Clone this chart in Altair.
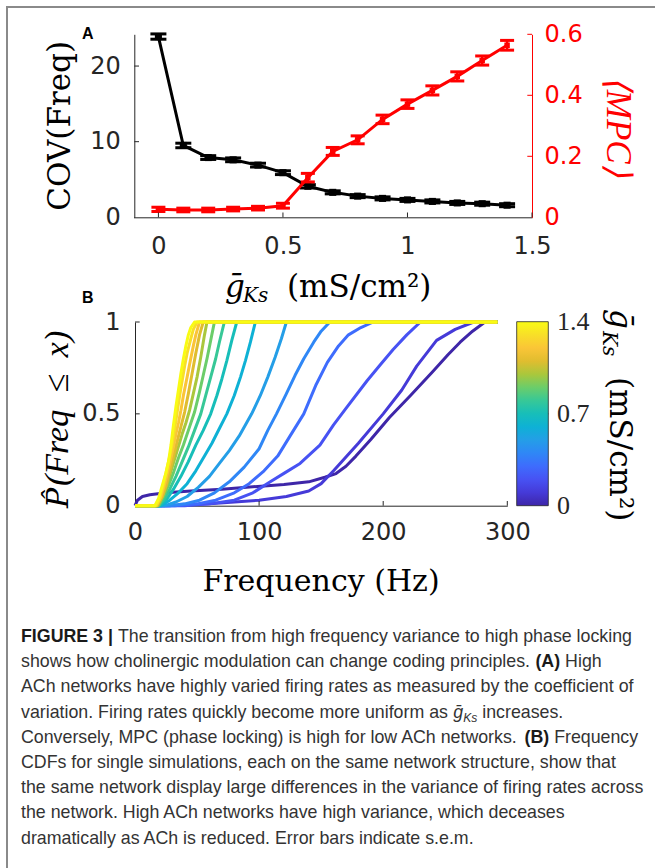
import altair as alt
import pandas as pd

W, H = 655, 868
SERIF = "DejaVu Serif"
ISERIF = "Liberation Serif"
SANS = "DejaVu Sans"
CAPF = "Liberation Sans"
AXC = "#262626"

# ---------------- Panel A data ----------------
gks = [0.0, 0.1, 0.2, 0.3, 0.4, 0.5, 0.6, 0.7, 0.8, 0.9, 1.0, 1.1, 1.2, 1.3, 1.4]
cov_freq = [23.9, 9.5, 7.9, 7.6, 6.9, 5.9, 4.1, 3.3, 2.8, 2.5, 2.3, 2.1, 1.9, 1.8, 1.6]
cov_sem = [0.35, 0.3, 0.25, 0.25, 0.25, 0.25, 0.22, 0.2, 0.2, 0.2, 0.2, 0.2, 0.2, 0.2, 0.2]
mpc = [0.026, 0.024, 0.024, 0.027, 0.030, 0.038, 0.130, 0.216, 0.254, 0.321, 0.371, 0.416, 0.462, 0.514, 0.564]
mpc_sem = [0.007, 0.006, 0.006, 0.006, 0.006, 0.008, 0.014, 0.013, 0.013, 0.014, 0.014, 0.015, 0.015, 0.015, 0.016]
gks_ticks = [0, 0.5, 1, 1.5]
cov_ticks = [0, 10, 20]
mpc_ticks = [0, 0.2, 0.4, 0.6]

# ---------------- Panel B data (CDF curves, one per gKs) ----------------
cdf_f_00 = [0, 2, 6, 12, 25, 45, 70, 99, 120, 140, 153, 162, 170, 178, 190, 205, 222, 240, 252, 262, 272, 282, 292]
cdf_p_00 = [0, 0.03, 0.05, 0.06, 0.07, 0.08, 0.09, 0.105, 0.115, 0.13, 0.155, 0.175, 0.215, 0.27, 0.36, 0.48, 0.6, 0.73, 0.82, 0.89, 0.95, 1.0, 1.0]
cdf_f_01 = [0, 25, 60, 100, 122, 140, 150, 160, 180, 200, 215, 227, 243, 258, 273, 292]
cdf_p_01 = [0, 0, 0.01, 0.03, 0.05, 0.08, 0.12, 0.19, 0.34, 0.5, 0.63, 0.76, 0.9, 0.96, 1.0, 1.0]
cdf_f_02 = [0, 40, 60, 80, 95, 109, 121, 133, 149, 160, 170, 187, 198, 208, 219, 230, 292]
cdf_p_02 = [0, 0, 0.01, 0.03, 0.07, 0.13, 0.18, 0.23, 0.33, 0.44, 0.53, 0.68, 0.77, 0.85, 0.93, 1.0, 1.0]
cdf_f_03 = [0, 32, 50, 65, 80, 92, 104, 115, 125, 136, 146, 155, 164, 172, 182, 192, 292]
cdf_p_03 = [0, 0, 0.01, 0.03, 0.07, 0.12, 0.19, 0.27, 0.38, 0.5, 0.66, 0.78, 0.87, 0.93, 0.97, 1.0, 1.0]
cdf_f_04 = [0, 28, 40, 52, 64, 76, 88, 100, 107, 114, 122, 129, 136, 144, 150, 157, 292]
cdf_p_04 = [0, 0, 0.01, 0.03, 0.07, 0.13, 0.21, 0.31, 0.41, 0.5, 0.61, 0.71, 0.8, 0.89, 0.95, 1.0, 1.0]
cdf_f_05 = [0, 24, 33, 42, 51, 60, 68, 76, 84, 94, 101, 107, 113, 118, 122, 292]
cdf_p_05 = [0, 0, 0.02, 0.05, 0.1, 0.16, 0.23, 0.3, 0.38, 0.5, 0.6, 0.7, 0.81, 0.91, 1.0, 1.0]
cdf_f_06 = [0, 21, 28, 35, 42, 49, 56, 62, 68, 74, 80, 85, 89, 93, 97, 292]
cdf_p_06 = [0, 0, 0.03, 0.07, 0.12, 0.19, 0.27, 0.34, 0.42, 0.5, 0.6, 0.7, 0.79, 0.89, 1.0, 1.0]
cdf_f_07 = [0, 20, 26, 31, 37, 43, 49, 55, 61, 66, 70, 74, 78, 82, 292]
cdf_p_07 = [0, 0, 0.04, 0.09, 0.16, 0.24, 0.33, 0.41, 0.5, 0.6, 0.69, 0.79, 0.9, 1.0, 1.0]
cdf_f_08 = [0, 19, 24, 28, 33, 38, 43, 48, 53, 57, 61, 65, 68, 72, 292]
cdf_p_08 = [0, 0, 0.04, 0.09, 0.16, 0.24, 0.32, 0.41, 0.5, 0.6, 0.7, 0.8, 0.89, 1.0, 1.0]
cdf_f_09 = [0, 19, 23, 27, 31, 35, 39, 43, 48, 52, 55, 58, 61, 64, 292]
cdf_p_09 = [0, 0, 0.05, 0.11, 0.18, 0.26, 0.33, 0.41, 0.51, 0.62, 0.71, 0.8, 0.9, 1.0, 1.0]
cdf_f_10 = [0, 18, 22, 26, 30, 34, 38, 41, 44, 47, 50, 53, 56, 58, 292]
cdf_p_10 = [0, 0, 0.05, 0.12, 0.21, 0.3, 0.39, 0.45, 0.52, 0.61, 0.7, 0.81, 0.93, 1.0, 1.0]
cdf_f_11 = [0, 18, 22, 25, 28, 31, 34, 37, 40, 43, 46, 49, 52, 55, 292]
cdf_p_11 = [0, 0, 0.05, 0.11, 0.19, 0.27, 0.35, 0.43, 0.51, 0.61, 0.72, 0.83, 0.93, 1.0, 1.0]
cdf_f_12 = [0, 17, 21, 24, 27, 30, 33, 35, 37, 39, 42, 44, 47, 49, 52, 292]
cdf_p_12 = [0, 0, 0.05, 0.12, 0.2, 0.29, 0.39, 0.45, 0.52, 0.6, 0.7, 0.77, 0.87, 0.93, 1.0, 1.0]
cdf_f_13 = [0, 17, 20, 23, 26, 29, 32, 34, 36, 38, 40, 42, 45, 47, 50, 292]
cdf_p_13 = [0, 0, 0.04, 0.12, 0.21, 0.3, 0.42, 0.51, 0.6, 0.68, 0.76, 0.83, 0.91, 0.96, 1.0, 1.0]
cdf_f_14 = [0, 16, 19, 22, 25, 27, 29, 31, 33, 35, 37, 39, 41, 43, 45, 48, 292]
cdf_p_14 = [0, 0, 0.04, 0.11, 0.18, 0.24, 0.33, 0.44, 0.54, 0.63, 0.72, 0.8, 0.87, 0.93, 0.97, 1.0, 1.0]

cdf_curves = [
    (0.0, cdf_f_00, cdf_p_00), (0.1, cdf_f_01, cdf_p_01), (0.2, cdf_f_02, cdf_p_02),
    (0.3, cdf_f_03, cdf_p_03), (0.4, cdf_f_04, cdf_p_04), (0.5, cdf_f_05, cdf_p_05),
    (0.6, cdf_f_06, cdf_p_06), (0.7, cdf_f_07, cdf_p_07), (0.8, cdf_f_08, cdf_p_08),
    (0.9, cdf_f_09, cdf_p_09), (1.0, cdf_f_10, cdf_p_10), (1.1, cdf_f_11, cdf_p_11),
    (1.2, cdf_f_12, cdf_p_12), (1.3, cdf_f_13, cdf_p_13), (1.4, cdf_f_14, cdf_p_14),
]
freq_ticks = [0, 100, 200, 300]
prob_ticks = [0, 0.5, 1]
cbar_ticks = [0, 0.7, 1.4]

# parula colour map stops
parula_idx = [0, 4, 8, 12, 16, 20, 24, 28, 32, 36, 40, 44, 48, 52, 56, 60, 63]
parula_colors = ["#3e26a8", "#4537d5", "#484df0", "#4563fd", "#327cfc", "#2b91ef", "#20a5e3",
                 "#08b5d0", "#19bfb6", "#37c897", "#64cd6f", "#9dc943", "#d1bf27", "#f8ba3d",
                 "#fccf30", "#f5e924", "#f9fb14"]
parula_stops = [round(1.4 * i / 63, 4) for i in parula_idx]

# ---------------- caption text ----------------
caption_lines = [
    [("FIGURE 3 |", "bold"), ("The transition from high frequency variance to high phase locking", "normal")],
    [("shows how cholinergic modulation can change coding principles.", "normal"), ("(A)", "bold"), ("High", "normal")],
    [("ACh networks have highly varied firing rates as measured by the coefficient of", "normal")],
    [("variation. Firing rates quickly become more uniform as", "normal"), ("ḡ", "italic"), ("Ks", "sub"), ("increases.", "normal")],
    [("Conversely, MPC (phase locking) is high for low ACh networks.", "normal"), ("(B)", "bold"), ("Frequency", "normal")],
    [("CDFs for single simulations, each on the same network structure, show that", "normal")],
    [("the same network display large differences in the variance of firing rates across", "normal")],
    [("the network. High ACh networks have high variance, which deceases", "normal")],
    [("dramatically as ACh is reduced. Error bars indicate s.e.m.", "normal")],
]
CAP_SIZE = 17.8

# Arial / Liberation Sans advance widths (per 1000 em)
REG_W = dict(zip("abcdefghijklmnopqrstuvwxyz",
                 [556, 556, 500, 556, 556, 278, 556, 556, 222, 222, 500, 222, 833, 556, 556, 556, 556, 333, 500, 278, 556, 500, 722, 500, 500, 500]))
REG_W.update(zip("ABCDEFGHIJKLMNOPQRSTUVWXYZ",
                 [667, 667, 722, 722, 667, 611, 778, 722, 278, 500, 667, 556, 833, 722, 778, 667, 778, 722, 667, 611, 722, 667, 944, 667, 667, 611]))
REG_W.update({" ": 278, ".": 278, ",": 278, "(": 333, ")": 333, "|": 260, "-": 333, "ḡ": 556})
REG_W.update({d: 556 for d in "0123456789"})
BOLD_W = dict(REG_W)
BOLD_W.update({"A": 722, "B": 722, "F": 611, "I": 278, "G": 778, "U": 722, "R": 722, "E": 667, "|": 280})


def text_width(s, table, size):
    return sum(table.get(c, 556) for c in s) * size / 1000.0


# ---------------- scales ----------------
def sc(domain, rng):
    return alt.Scale(domain=domain, range=rng, nice=False, zero=False)


A_X = ([-0.1, 1.5], [133.5, 532.0])
A_YL = ([0, 24.2], [217.3, 34.3])
A_YR = ([0, 0.6], [217.3, 34.3])
B_X = ([0, 300], [135.0, 507.3])
B_Y = ([0, 1], [505.7, 322.0])
CB_Y = ([0, 1.4], [505.7, 322.0])


def axis(orient, offset, values, pad, color=AXC):
    return alt.Axis(orient=orient, offset=offset, values=values, format=".2~f", grid=False, ticks=False,
                    labelFont=SANS, labelFontSize=24, labelColor=color, labelPadding=pad,
                    domainColor=color, domainWidth=1, title=None, labelFlush=False, labelOverlap=False)


layers = []

# frame of the figure
frame = pd.DataFrame({"k": [0]})
layers.append(alt.Chart(frame).mark_rule(color="#8a8a8a", strokeWidth=2).encode(
    x=alt.value(7), y=alt.value(6), y2=alt.value(H)))
layers.append(alt.Chart(frame).mark_rule(color="#8a8a8a", strokeWidth=2).encode(
    x=alt.value(6), x2=alt.value(W), y=alt.value(7)))

# ---------------- Panel A ----------------
dfA = pd.DataFrame({
    "g": gks, "cov": cov_freq,
    "cov_lo": [c - e for c, e in zip(cov_freq, cov_sem)], "cov_hi": [c + e for c, e in zip(cov_freq, cov_sem)],
    "mpc": mpc,
    "mpc_lo": [m - e for m, e in zip(mpc, mpc_sem)], "mpc_hi": [m + e for m, e in zip(mpc, mpc_sem)],
})
bA = alt.Chart(dfA)
xA = alt.X("g:Q", scale=sc(*A_X), axis=None)

layers.append(bA.mark_line(color="black", strokeWidth=3).encode(
    x=alt.X("g:Q", scale=sc(*A_X), axis=axis("bottom", 217.3 - H, gks_ticks, 17)),
    y=alt.Y("cov:Q", scale=sc(*A_YL), axis=axis("left", -134.3, cov_ticks, 14))))
layers.append(bA.mark_rule(color="black", strokeWidth=2.5).encode(
    x=xA, y=alt.Y("cov_lo:Q", scale=sc(*A_YL), axis=None), y2="cov_hi:Q"))
for fld in ["cov_lo", "cov_hi"]:
    layers.append(bA.mark_tick(color="black", orient="horizontal", size=16, thickness=3, opacity=1).encode(
        x=xA, y=alt.Y(f"{fld}:Q", scale=sc(*A_YL), axis=None)))
layers.append(bA.mark_square(color="black", size=50, opacity=1).encode(
    x=xA, y=alt.Y("cov:Q", scale=sc(*A_YL), axis=None)))

layers.append(bA.mark_line(color="#ff0000", strokeWidth=3).encode(
    x=xA, y=alt.Y("mpc:Q", scale=sc(*A_YR), axis=axis("right", 532.0 - W, mpc_ticks, 12, "#ff0000"))))
layers.append(bA.mark_rule(color="#ff0000", strokeWidth=2.5).encode(
    x=xA, y=alt.Y("mpc_lo:Q", scale=sc(*A_YR), axis=None), y2="mpc_hi:Q"))
for fld in ["mpc_lo", "mpc_hi"]:
    layers.append(bA.mark_tick(color="#ff0000", orient="horizontal", size=14, thickness=3, opacity=1).encode(
        x=xA, y=alt.Y(f"{fld}:Q", scale=sc(*A_YR), axis=None)))
layers.append(bA.mark_square(color="#ff0000", size=30, opacity=1).encode(
    x=xA, y=alt.Y("mpc:Q", scale=sc(*A_YR), axis=None)))

# inward tick marks, panel A
layers.append(alt.Chart(pd.DataFrame({"v": gks_ticks})).mark_rule(color=AXC, strokeWidth=1).encode(
    x=alt.X("v:Q", scale=sc(*A_X), axis=None), y=alt.value(217.3), y2=alt.value(212.5)))
layers.append(alt.Chart(pd.DataFrame({"v": cov_ticks[1:]})).mark_rule(color=AXC, strokeWidth=1).encode(
    y=alt.Y("v:Q", scale=sc(*A_YL), axis=None), x=alt.value(134.3), x2=alt.value(139)))
layers.append(alt.Chart(pd.DataFrame({"v": mpc_ticks[1:]})).mark_rule(color="#ff0000", strokeWidth=1).encode(
    y=alt.Y("v:Q", scale=sc(*A_YR), axis=None), x=alt.value(532), x2=alt.value(527.3)))

# ---------------- Panel B ----------------
rows = []
for g, fs, ps in cdf_curves:
    for i, (f, p) in enumerate(zip(fs, ps)):
        rows.append({"g": g, "freq": f, "prob": p, "i": i})
dfB = pd.DataFrame(rows)

layers.append(alt.Chart(dfB).mark_line(strokeWidth=3, strokeJoin="round").encode(
    x=alt.X("freq:Q", scale=sc(*B_X), axis=axis("bottom", 505.7 - H, freq_ticks, 15)),
    y=alt.Y("prob:Q", scale=sc(*B_Y), axis=axis("left", -135.0, prob_ticks, 15)),
    color=alt.Color("g:Q",
                    scale=alt.Scale(domain=parula_stops, range=parula_colors, interpolate="rgb"),
                    legend=alt.Legend(orient="none", legendX=516.7, legendY=321.7, direction="vertical",
                                      gradientLength=184, gradientThickness=31.6, title=None,
                                      values=cbar_ticks, labelOpacity=0, labelFontSize=1,
                                      gradientStrokeColor=AXC, gradientStrokeWidth=0.8, padding=0)),
    detail="g:Q",
    order="i:Q"))

# colour-bar tick labels placed with a colour-bar scale
layers.append(alt.Chart(pd.DataFrame({"v": cbar_ticks})).mark_text(
    font="Liberation Serif", fontSize=26, color=AXC, align="left", baseline="middle").encode(
    y=alt.Y("v:Q", scale=sc(*CB_Y), axis=None), x=alt.value(557),
    text=alt.Text("v:Q", format=".1~f")))
layers.append(alt.Chart(pd.DataFrame({"v": cbar_ticks[1:2]})).mark_rule(color=AXC, strokeWidth=1).encode(
    y=alt.Y("v:Q", scale=sc(*CB_Y), axis=None), x=alt.value(548.3), x2=alt.value(545)))

layers.append(alt.Chart(pd.DataFrame({"v": freq_ticks[1:]})).mark_rule(color=AXC, strokeWidth=1).encode(
    x=alt.X("v:Q", scale=sc(*B_X), axis=None), y=alt.value(505.7), y2=alt.value(501)))
layers.append(alt.Chart(pd.DataFrame({"v": prob_ticks[1:]})).mark_rule(color=AXC, strokeWidth=1).encode(
    y=alt.Y("v:Q", scale=sc(*B_Y), axis=None), x=alt.value(135), x2=alt.value(139.7)))


# ---------------- text ----------------
def txt(s, x, y, size, font=SERIF, style="normal", weight="normal", angle=0, align="left",
        color="black", baseline="alphabetic"):
    return alt.Chart(pd.DataFrame({"t": [s]})).mark_text(
        font=font, fontSize=size, fontStyle=style, fontWeight=weight, angle=angle, align=align,
        baseline=baseline, color=color).encode(x=alt.value(x), y=alt.value(y), text="t:N")


# panel letters
layers.append(txt("A", 82, 38.5, 16, font=CAPF, weight="bold"))
layers.append(txt("B", 82, 302.5, 16, font=CAPF, weight="bold"))

# panel A titles
layers.append(txt("COV(Freq)", 70, 125.8, 31, angle=270, align="center"))
layers.append(txt("⟨MPC⟩", 607, 126.7, 35, font=ISERIF, style="italic", angle=90, align="center", color="#ff0000"))
layers.append(txt("ḡ", 225, 297, 31, style="italic"))
layers.append(txt("Ks", 243, 301.5, 20, style="italic"))
layers.append(txt("(mS/cm²)", 287, 297, 31))

# panel B titles
layers.append(txt("P\u0302", 68, 508, 30, style="italic", angle=270))
layers.append(txt("(Freq\u2002≤\u2002x)", 68, 486, 34, font=ISERIF, style="italic", angle=270))
layers.append(txt("Frequency (Hz)", 321, 591, 30, align="center"))
layers.append(txt("ḡ", 610, 309, 31, style="italic", angle=90))
layers.append(txt("Ks", 603, 331, 20, style="italic", angle=90))
layers.append(txt("(mS/cm²)", 610, 377, 31, angle=90))

# caption
CAP_X0, CAP_Y0, CAP_DY = 21, 642, 25.2
for li, segs in enumerate(caption_lines):
    size = CAP_SIZE
    y = CAP_Y0 + li * CAP_DY
    x = CAP_X0
    for si, (s, kind) in enumerate(segs):
        if kind == "bold":
            layers.append(txt(s, x, y, size, font=CAPF, weight="bold", color="#1a1a1a"))
            w = text_width(s, BOLD_W, size)
        elif kind == "italic":
            layers.append(txt(s, x, y, size, font=CAPF, style="italic", color="#333333"))
            w = text_width(s, REG_W, size)
        elif kind == "sub":
            layers.append(txt(s, x, y + 4, size * 0.68, font=CAPF, style="italic", color="#333333"))
            w = text_width(s, REG_W, size * 0.68)
        else:
            layers.append(txt(s, x, y, size, font=CAPF, color="#333333"))
            w = text_width(s, REG_W, size)
        x += w
        nxt = segs[si + 1][1] if si + 1 < len(segs) else None
        if not (kind == "italic" and nxt == "sub"):
            x += text_width(" ", REG_W, size)

chart = alt.layer(*layers).resolve_scale(
    x="independent", y="independent", color="independent"
).properties(
    width=W, height=H, autosize=alt.AutoSizeParams(type="none"), padding=0, background="white"
).configure_view(stroke=None)

chart.save("out.html", embed_options={"renderer": "svg", "actions": False})
